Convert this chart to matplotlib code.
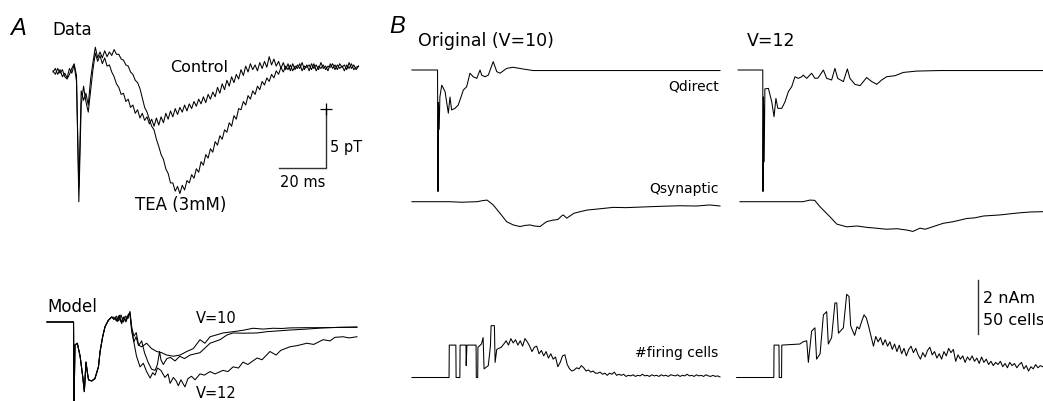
import matplotlib
matplotlib.use('Agg')
import matplotlib.pyplot as plt
import numpy as np

plt.rcParams['font.family'] = ['DejaVu Sans']

# ---------------- A: recorded MEG traces (pT, 1 ms samples) ----------------
ctrl_v = [0.1, -0.2, 0.3, -0.1, 0.2, -0.4, -0.6, -0.2, 0.3, 0.7, -0.3,
          -11.0,
          -2.8, -1.2, -2.5, -3.4, -1.6, 0.2, 1.6, 0.9, 1.4,
          0.7, 1.2, 0.5, 0.6, 0.0, -0.4, -1.0, -1.3, -1.9, -1.8,
          -2.5, -2.3, -3.0, -2.8, -3.5, -3.2, -3.9, -3.5, -4.1, -3.8,
          -4.4, -4.0, -4.6, -3.9, -4.5, -3.8, -4.3, -3.5, -4.0, -3.3,
          -3.8, -3.1, -3.6, -3.0, -3.4, -2.8, -3.3, -2.7, -3.1, -2.5,
          -2.9, -2.3, -2.7, -2.1, -2.6, -1.9, -2.3, -1.7, -2.1, -1.3,
          -1.8, -1.0, -1.5, -0.7, -1.2, -0.4, -0.9, -0.2, -0.6, 0.2,
          -0.3, 0.5, 0.0, 0.7, 0.2, 0.6, 0.1, 0.8, 0.3, 0.9,
          0.4, 1.3, 0.6, 1.1, 0.5, 0.9, 0.3, 0.8, 0.2, 0.7,
          0.1, 0.7, 0.2, 0.6, 0.3, 0.8, 0.2, 0.6, 0.1, 0.7,
          0.3, 0.6, 0.2, 0.8, 0.3, 0.5, 0.1, 0.7, 0.3, 0.6,
          0.2, 0.7, 0.4, 0.6, 0.2, 0.8, 0.3, 0.6, 0.2, 0.5]

tea_v = [0.0, 0.3, -0.2, 0.2, -0.4, -0.1, -0.5, 0.3, -0.1, 0.6, -0.8,
         -9.8,
         -1.6, -2.4, -1.8, -2.8, -0.6, 0.8, 2.1, 1.2, 1.7,
         1.2, 1.8, 1.3, 1.7, 1.4, 1.9, 1.5, 1.5, 1.1, 1.0,
         0.6, 0.5, 0.0, -0.2, -0.7, -0.9, -1.4, -2.2, -3.0, -3.4,
         -4.0, -4.6, -4.9, -5.7, -6.3, -7.0, -7.4, -8.2, -8.6, -9.4,
         -9.4, -10.1, -9.7, -10.3, -9.6, -10.0, -9.2, -9.4, -8.7, -9.0,
         -8.2, -8.5, -7.6, -7.9, -7.0, -7.3, -6.5, -6.8, -5.9, -6.2,
         -5.4, -5.7, -4.9, -5.1, -4.3, -4.6, -3.7, -4.0, -3.1, -3.2,
         -2.5, -2.8, -2.0, -2.3, -1.6, -1.9, -1.2, -1.5, -0.8, -1.1,
         -0.5, -0.8, -0.2, -0.5, 0.1, -0.2, 0.4, 0.0, 0.5, 0.2,
         0.6, 0.1, 0.5, 0.3, 0.7, 0.1, 0.5, 0.4, 0.6, 0.2,
         0.7, 0.1, 0.5, 0.3, 0.6, 0.2, 0.5, 0.4, 0.7, 0.2,
         0.6, 0.3, 0.5, 0.1, 0.6, 0.3, 0.7, 0.2, 0.4, 0.5]

# ---------------- A: model traces (ms, same units) ----------------
onset_t = [-11.5, -0.2, 0.0, 0.4, 1.4, 2.6, 3.7, 4.4, 5.1, 5.7, 6.2, 7.5,
           8.9, 10.4, 11.1, 12.2, 13.2, 14.6, 16.0]
onset_v = [0, 0, -7.5, -1.95, -1.8, -2.9, -4.6, -5.9, -3.4, -4.3, -4.9, -5.0,
           -4.8, -3.8, -2.5, -1.25, -0.4, 0.14, 0.42]

mod_a_t = [17.0, 17.9, 18.4, 19.3, 20.3, 21.3, 22.1, 23.3, 23.8,
           24.5, 25.5, 26.4, 27.4, 28.8, 30.9, 33.0, 35.2, 37.3, 39.4,
           42.3, 45.1, 48.0, 50.8, 53.6, 55.7, 57.9, 60.5, 63.4,
           67.7, 72.0, 76.2, 80.5, 84.7, 88.5, 91.9, 99.0, 106.0, 113.0, 120.4]
mod_a_v = [0.3, 0.31, 0.03, 0.57, -0.14, 0.45, 0.0, 0.68, 0.8,
           -0.7, -1.67, -1.25, -1.95, -2.1, -1.8, -2.25, -2.5, -2.6, -2.8,
           -2.9, -2.8, -2.5, -2.25, -1.5, -1.8, -1.25, -1.1, -0.93,
           -0.82, -0.7, -0.53, -0.6, -0.53, -0.55, -0.5, -0.48, -0.48, -0.46, -0.45]

mod_b_t = [17.0, 18.0, 19.0, 20.0, 21.0, 22.0, 23.0, 23.8, 24.6, 25.5,
           26.5, 27.5, 28.8, 30.0, 31.5, 33.0, 34.5, 35.5, 36.4, 37.0,
           38.0, 39.5, 41.0, 43.0, 45.0, 47.0, 49.4, 53.6, 57.9, 62.1,
           65.1, 67.7, 72.0, 77.9, 82.1, 87.0, 91.9, 99.0, 106.0, 113.0, 120.4]
mod_b_v = [0.2, 0.5, 0.1, 0.6, 0.0, 0.5, 0.3, 0.9, -0.5, -1.2,
           -0.9, -2.0, -1.6, -2.6, -3.4, -4.0, -4.1, -3.6, -2.5, -3.2,
           -3.6, -3.1, -3.0, -3.3, -2.9, -3.1, -2.8, -2.6, -1.8, -1.5,
           -1.1, -0.93, -0.95, -0.93, -0.82, -0.75, -0.68, -0.6, -0.5, -0.45, -0.42]

mod_c_t = [17.0, 18.0, 19.0, 20.0, 21.0, 22.0, 23.0, 23.8, 24.8, 26.6,
           28.1, 29.5, 30.9, 32.4, 33.5, 34.5, 35.5, 37.0, 38.7, 40.0,
           40.9, 42.3, 43.5, 44.4, 45.5, 47.2, 48.5, 50.0, 51.5, 53.6,
           55.5, 57.9, 60.0, 63.4, 65.5, 67.7, 70.0, 71.9, 74.0, 77.9,
           80.0, 83.4, 86.0, 88.0, 91.9, 95.0, 99.1, 102.0, 106.0, 109.0,
           111.0, 114.5, 117.0, 120.4]
mod_c_v = [0.4, 0.1, 0.5, 0.0, 0.4, 0.1, 0.6, 0.7, -1.0, -2.9,
           -3.8, -3.5, -4.2, -4.75, -4.3, -4.5, -3.9, -4.1, -4.7, -4.4,
           -5.2, -4.7, -5.0, -5.4, -4.9, -5.5, -4.8, -4.6, -4.9, -4.4,
           -4.5, -4.2, -4.4, -4.1, -4.2, -3.8, -3.9, -3.4, -3.6, -3.05,
           -3.2, -2.5, -2.8, -2.4, -2.1, -2.0, -1.8, -1.9, -1.5, -1.6,
           -1.3, -1.25, -1.35, -1.25]

# ---------------- B: simulated dipole moments (nAm) and firing (cells) ----------------
qd10_t = [-11.1, -0.2, 0.0, 0.2, 0.5, 0.8, 1.6, 3.0, 4.4, 5.1, 5.8, 7.2, 8.6,
          10.8, 12.2, 13.6, 15.0, 16.5, 17.9, 18.6, 20.0, 21.4, 23.5,
          25.0, 26.4, 29.2, 32.0, 36.0, 40.4, 46.4, 80.0, 120.0]
qd10_v = [0, 0, -4.5, -1.2, -2.2, -1.0, -0.56, -0.8, -1.6, -1.0, -1.48, -1.42, -1.3,
          -0.74, -0.62, -0.12, -0.25, -0.31, 0.0, -0.19, -0.25, -0.19, 0.31,
          -0.06, -0.12, 0.06, 0.1, 0.04, -0.02, -0.02, -0.02, -0.02]

qd12_t = [-10.6, -0.1, 0.0, 0.2, 0.5, 0.8, 2.3, 3.7, 4.7, 5.5, 6.3,
          8.0, 9.4, 10.8, 12.2, 13.6, 15.0, 16.5, 17.1, 18.6, 20.7,
          22.1, 23.4, 25.7, 27.1, 29.2, 30.6, 31.8, 34.2, 35.9, 37.0,
          39.1, 41.3, 44.1, 46.3, 48.4, 50.5, 52.6, 56.2, 59.7, 65.4, 75.3, 119.0]
qd12_v = [0, 0, -4.5, -1.0, -3.4, -0.7, -0.68, -1.17, -1.73, -1.05, -1.42,
          -1.42, -1.17, -0.8, -0.62, -0.25, -0.31, -0.25, -0.19, -0.31, -0.12,
          -0.31, -0.3, 0.0, -0.31, -0.37, 0.06, -0.31, -0.43, 0.04, -0.31,
          -0.53, -0.58, -0.28, -0.43, -0.53, -0.37, -0.25, -0.21, -0.09, -0.04, -0.02, -0.02]

qs10_t = [-11.1, 5, 10, 16.6, 19, 20.9, 23.5, 26.4, 29.2, 32.0, 34.9, 37, 39.1,
          41, 43.4, 46.2, 49.0, 51, 52.6, 53.3, 54.8, 57.8, 60, 63.4, 68, 74.6,
          80, 88.8, 95, 103, 110, 115.7, 120]
qs10_v = [0, 0.0, -0.02, 0.0, 0.04, 0.06, -0.12, -0.43, -0.74, -0.86, -0.92, -0.88, -0.86,
          -0.9, -0.92, -0.74, -0.68, -0.66, -0.53, -0.49, -0.61, -0.43, -0.38, -0.31, -0.27, -0.21,
          -0.22, -0.19, -0.17, -0.15, -0.16, -0.12, -0.16]

qs12_t = [-9.8, 10, 17.0, 20.0, 22, 24.3, 28.5, 31.4, 35.6, 40, 44.1, 48, 52.6,
          57, 61.1, 63.8, 66.8, 69, 72.5, 76.7, 81.0, 86.8, 90, 93.8, 100.9,
          105, 109.4, 114, 119.1]
qs12_v = [0, 0.0, 0.0, 0.06, 0.05, -0.19, -0.56, -0.83, -0.93, -0.9, -0.95, -0.98, -1.02,
          -1.0, -1.05, -1.1, -0.98, -1.02, -0.92, -0.8, -0.74, -0.62, -0.6, -0.53, -0.49,
          -0.45, -0.41, -0.38, -0.37]

fire10_head_t = [-11.1, 4.7, 4.8, 7.6, 7.7, 9.3, 9.4, 11.9, 12.0, 12.3, 16.2, 16.3,
                 16.9, 17.0, 18.5, 19.2, 19.6, 21.4, 22.3, 22.6, 24.0, 24.3, 25.0, 26.9]
fire10_head_v = [0, 0, 30, 30, 0, 0, 30, 30, 11, 30, 30, 0,
                 0, 28, 31, 37, 8, 11, 29, 48, 48, 14, 26, 28]
fire10_tail = [31, 34, 30, 36, 32, 35, 30, 34, 29, 36,          # from 28 ms
               33, 29, 24, 28, 29, 22, 25, 20, 24, 18,
               22, 17, 19, 10, 14, 20, 21, 12, 8, 6,
               7, 9, 8, 11, 9, 6, 7, 5, 6, 4,
               4, 5, 3, 4, 2, 4, 3, 5, 2, 3,
               2, 3, 1, 2, 1.5, 2.5, 1, 2, 1.5, 3,
               1.5, 2, 1, 2.5, 1.5, 2, 1, 2.5, 1.5, 2,
               1, 2.5, 2, 1.5, 2.5, 1, 2, 1.5, 3, 1.5,
               2, 1, 2.5, 1.5, 2, 1, 2.5, 1.5, 1, 2,
               1, 1.5, 0.5]

fire12_head_t = [-11.2, 4.6, 4.7, 6.8, 6.9, 7.9, 8.0, 15.7, 17.0, 18.6, 19.3, 20.7,
                 22.1, 22.8, 24.3, 25.7, 27.1, 27.8, 29.2, 30.6, 31.4, 32.1, 34.2,
                 35.6, 36.6, 37.3]
fire12_head_v = [0, 0, 30, 30, 0, 0, 30, 31, 33, 34, 14, 43,
                 46, 17, 22, 58, 61, 31, 37, 69, 69, 41, 46,
                 77, 75, 48]
fire12_tail = [44, 39, 47, 45, 52, 58, 55, 47, 38, 29,          # from 38 ms
               38, 33, 37, 30, 35, 29, 33, 26, 31, 24,
               30, 22, 27, 20, 26, 29, 23, 27, 21, 17,
               23, 19, 25, 28, 21, 24, 18, 22, 17, 24,
               20, 27, 23, 26, 15, 21, 17, 20, 14, 19,
               16, 20, 15, 18, 13, 19, 14, 17, 12, 15,
               11, 14, 12, 15, 10, 13, 9, 14, 11, 13,
               9, 12, 14, 8, 11, 6, 10, 8, 12, 9,
               11, 10]

# ---------------- layout ----------------
W, H = 1043, 401
MS_PX = 2.35          # pixels per ms, common time base
fig = plt.figure(figsize=(W / 100, H / 100), dpi=100)
fig.patch.set_facecolor('white')


def panel(x_zero, y_zero, tlim, vlim, unit_px):
    """Axes whose origin (t=0, v=0) sits at pixel (x_zero, y_zero)."""
    left = x_zero + tlim[0] * MS_PX
    width = (tlim[1] - tlim[0]) * MS_PX
    top = y_zero - vlim[1] * unit_px
    height = (vlim[1] - vlim[0]) * unit_px
    ax = fig.add_axes([left / W, 1 - (top + height) / H, width / W, height / H])
    ax.set_xlim(*tlim)
    ax.set_ylim(*vlim)
    ax.axis('off')
    return ax


def label(x, y, s, size, **kw):
    fig.text(x / W, 1 - y / H, s, fontsize=size, va='baseline', **kw)


trace = dict(color='black', lw=0.75)

# A, data
ax = panel(53, 72, (-2, 132), (-12, 3), 11.8)
data_t = np.arange(len(ctrl_v))
ax.plot(data_t, ctrl_v, **trace)
ax.plot(np.arange(len(tea_v)), tea_v, **trace)
ax.plot([96, 116, 116], [-8.1, -8.1, -3.1], color='#333333', lw=1.0)
ax.plot([116], [-3.1], marker='+', ms=8, mew=0.9, color='black')

# A, model
ax = panel(74, 322, (-13, 123), (-7, 2.5), 11.8)
for late_t, late_v in [(mod_a_t, mod_a_v), (mod_b_t, mod_b_v), (mod_c_t, mod_c_v)]:
    ax.plot(onset_t + late_t, onset_v + late_v, **trace)

# B, both columns
for x_zero, qd, qs, fire in [
        (438, (qd10_t, qd10_v), (qs10_t, qs10_v),
         (fire10_head_t + list(np.arange(28, 28 + len(fire10_tail))),
          fire10_head_v + fire10_tail)),
        (763, (qd12_t, qd12_v), (qs12_t, qs12_v),
         (fire12_head_t + list(np.arange(38, 38 + len(fire12_tail))),
          fire12_head_v + fire12_tail))]:
    ax = panel(x_zero, 70, (-12, 121), (-5, 1), 27)
    ax.plot(*qd, **trace)
    ax.set_xlim(-12, 121)
    ax = panel(x_zero, 201.7, (-12, 121), (-1.5, 0.5), 27)
    ax.plot(*qs, **trace)
    ax = panel(x_zero, 377.5, (-12, 121), (-20, 100), 1.08)
    ax.plot(*fire, **trace)
    ax_fire = ax

# scale bar: 2 nAm / 50 cells
ax_fire.plot([91.5, 91.5], [40.5, 90.5], color='#333333', lw=1.0)

# ---------------- text ----------------
label(10, 35, 'A', 17, family='Liberation Sans', style='italic')
label(52, 35, 'Data', 12)
label(170, 72, 'Control', 11.5)
label(135, 210, 'TEA (3mM)', 12)
label(330, 152, '5 pT', 10.5)
label(280, 187, '20 ms', 10.5)
label(47, 312, 'Model', 12)
label(196, 323, 'V=10', 10.5)
label(196, 398, 'V=12', 10.5)

label(389, 33, 'B', 17, family='Liberation Sans', style='italic')
label(418, 46, 'Original (V=10)', 12.5)
label(747, 46, 'V=12', 12.5)
label(719, 90, 'Qdirect', 10, ha='right')
label(719, 193, 'Qsynaptic', 10, ha='right')
label(718, 357, '#firing cells', 10, ha='right')
label(983, 303, '2 nAm', 11.5)
label(983, 325, '50 cells', 11.5)

fig.savefig('out.png', dpi=100, facecolor='white')
